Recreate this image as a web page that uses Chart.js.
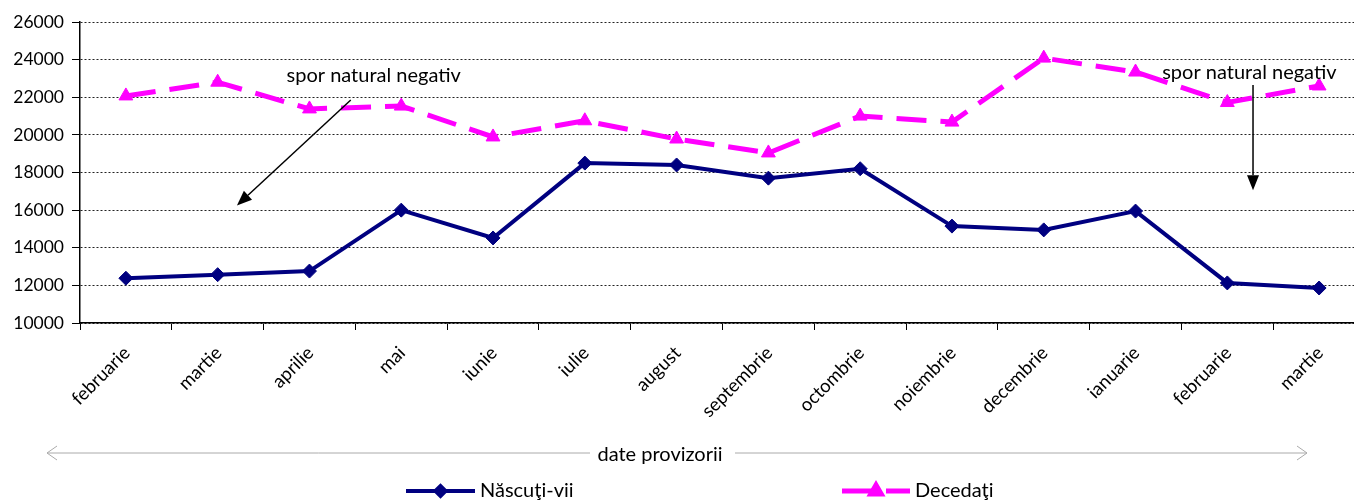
<!DOCTYPE html>
<html>
<head>
<meta charset="utf-8">
<script src="https://cdn.jsdelivr.net/npm/chart.js@4/dist/chart.umd.min.js"></script>
<style>
  html, body { margin: 0; padding: 0; background: #fff; overflow: hidden; }
  #wrap { width: 1374px; height: 500px; }
</style>
</head>
<body>
<div id="wrap"><canvas id="grafic"></canvas></div>
<script>
const luni = ['februarie', 'martie', 'aprilie', 'mai', 'iunie', 'iulie', 'august',
  'septembrie', 'octombrie', 'noiembrie', 'decembrie', 'ianuarie', 'februarie', 'martie'];
const nascutiVii = [12380, 12570, 12760, 16000, 14520, 18500, 18400, 17700, 18200, 15150, 14950, 15950, 12130, 11860];
const decedati = [22070, 22800, 21380, 21530, 19890, 20750, 19780, 19040, 21000, 20680, 24080, 23340, 21720, 22600];
const yMin = 10000;
const yMax = 26000;
const yPas = 2000;

const FONT = 'Lato, "Open Sans", sans-serif';

// text + sageata, in coordonate de axa (index categorie, valoare)
const adnotari = [
  { text: 'spor natural negativ', tx: 2.70, ty: 23150, x1: 2.45, y1: 21850, x2: 1.21, y2: 16250 },
  { text: 'spor natural negativ', tx: 12.24, ty: 23300, x1: 12.28, y1: 22650, x2: 12.28, y2: 17050 }
];

function sageata(ctx, x1, y1, x2, y2) {
  const a = Math.atan2(y2 - y1, x2 - x1);
  const len = 15, w = 6;
  ctx.beginPath();
  ctx.moveTo(x1, y1);
  ctx.lineTo(x2 - Math.cos(a) * len, y2 - Math.sin(a) * len);
  ctx.stroke();
  ctx.beginPath();
  ctx.moveTo(x2, y2);
  ctx.lineTo(x2 - Math.cos(a) * len - Math.sin(a) * w, y2 - Math.sin(a) * len + Math.cos(a) * w);
  ctx.lineTo(x2 - Math.cos(a) * len + Math.sin(a) * w, y2 - Math.sin(a) * len - Math.cos(a) * w);
  ctx.closePath();
  ctx.fill();
}

const desen = {
  id: 'desen',
  afterDraw(chart) {
    const { ctx, scales: { x, y } } = chart;
    ctx.save();

    // adnotari
    ctx.fillStyle = '#000';
    ctx.strokeStyle = '#000';
    ctx.lineWidth = 1.5;
    ctx.font = '20px ' + FONT;
    ctx.textAlign = 'center';
    ctx.textBaseline = 'middle';
    adnotari.forEach(a => {
      ctx.fillText(a.text, x.getPixelForValue(a.tx), y.getPixelForValue(a.ty));
      sageata(ctx, x.getPixelForValue(a.x1), y.getPixelForValue(a.y1),
        x.getPixelForValue(a.x2), y.getPixelForValue(a.y2));
    });

    // date provizorii
    const yb = 453;
    ctx.fillText('date provizorii', 660, yb + 2);
    ctx.strokeStyle = '#aaa';
    ctx.lineWidth = 1;
    ctx.beginPath();
    ctx.moveTo(47, yb); ctx.lineTo(590, yb);
    ctx.moveTo(57, yb - 7); ctx.lineTo(47, yb); ctx.lineTo(57, yb + 7);
    ctx.moveTo(735, yb); ctx.lineTo(1307, yb);
    ctx.moveTo(1297, yb - 7); ctx.lineTo(1307, yb); ctx.lineTo(1297, yb + 7);
    ctx.stroke();

    // legenda
    const yl = 491;
    chart.data.datasets.forEach((ds, i) => {
      const x0 = i === 0 ? 406 : 842;
      const x1 = i === 0 ? 475 : 910;
      const xm = (x0 + x1) / 2;
      ctx.strokeStyle = ds.borderColor;
      ctx.fillStyle = ds.borderColor;
      ctx.lineWidth = i === 0 ? 4 : 5;
      ctx.setLineDash(i === 0 ? [] : [30, 14]);
      ctx.beginPath();
      ctx.moveTo(x0, yl); ctx.lineTo(x1, yl);
      ctx.stroke();
      ctx.setLineDash([]);
      Chart.helpers.drawPoint(ctx, { pointStyle: ds.pointStyle, radius: i === 0 ? 5 : 6, borderWidth: 1, rotation: 0 }, xm, yl);
      ctx.fillStyle = '#000';
      ctx.font = '20px ' + FONT;
      ctx.textAlign = 'left';
      ctx.fillText(ds.label, x1 + 5, yl);
    });
    ctx.restore();
  }
};

new Chart(document.getElementById('grafic'), {
  type: 'line',
  data: {
    labels: luni,
    datasets: [{
      label: 'Născuţi-vii',
      data: nascutiVii,
      borderColor: '#000080',
      backgroundColor: '#000080',
      borderWidth: 4,
      pointStyle: 'rectRot',
      pointRadius: 7,
      pointBorderWidth: 1,
      tension: 0
    }, {
      label: 'Decedaţi',
      data: decedati,
      borderColor: '#ff00ff',
      backgroundColor: '#ff00ff',
      borderWidth: 5,
      borderDash: [30, 14],
      pointStyle: 'triangle',
      pointRadius: 8,
      pointBorderWidth: 1,
      tension: 0
    }]
  },
  options: {
    responsive: true,
    maintainAspectRatio: false,
    animation: false,
    layout: { padding: { top: 22, right: 2, left: 0, bottom: 0 } },
    plugins: {
      legend: { display: false },
      tooltip: { enabled: false }
    },
    scales: {
      x: {
        offset: true,
        afterFit: s => { s.height = 177; },
        grid: { display: true, drawOnChartArea: false, drawTicks: true, tickLength: 7, color: '#000', offset: true },
        border: { color: '#000', width: 1.5 },
        ticks: {
          autoSkip: false, minRotation: 45, maxRotation: 45,
          color: '#000', font: { family: FONT, size: 18.5 }, labelOffset: 1, padding: 12
        }
      },
      y: {
        min: yMin,
        max: yMax,
        afterFit: s => { s.width = 80; },
        grid: { color: '#222', lineWidth: 1, tickLength: 8, tickColor: '#000', tickBorderDash: [] },
        border: { color: '#000', width: 1.5, dash: [2, 2] },
        ticks: { stepSize: yPas, color: '#000', font: { family: FONT, size: 17.5 }, padding: 8, callback: v => String(v) }
      }
    }
  },
  plugins: [desen]
});
</script>
</body>
</html>
